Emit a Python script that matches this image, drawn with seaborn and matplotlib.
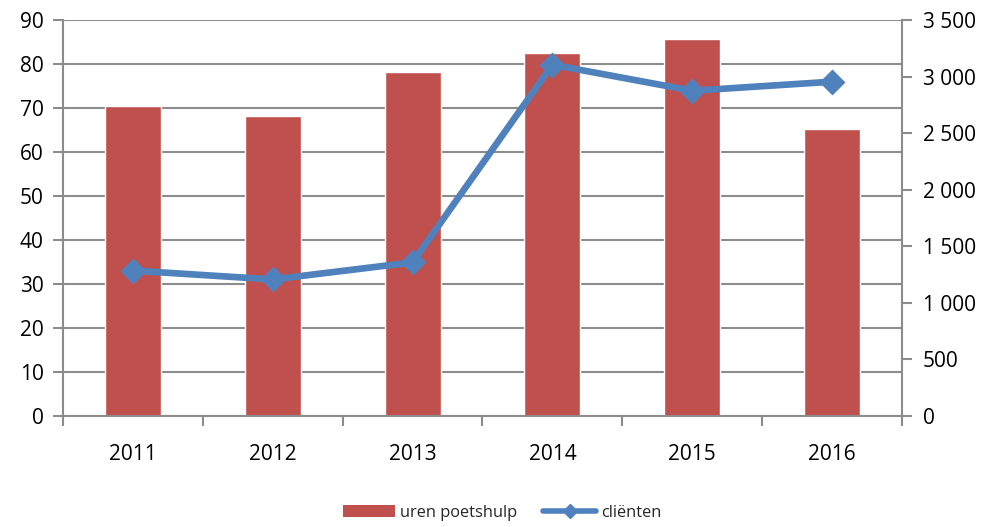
import matplotlib
matplotlib.use("Agg")
import matplotlib.pyplot as plt
import seaborn as sns
import numpy as np
import pandas as pd
from matplotlib.ticker import FuncFormatter, FixedLocator
from matplotlib.patches import Patch
from matplotlib.lines import Line2D

years = ["2011", "2012", "2013", "2014", "2015", "2016"]
uren_poetshulp = [70.45, 68.2, 78.3, 82.4, 85.6, 65.2]
clienten = [1285, 1207, 1358, 3105, 2875, 2955]

bar_color = "#C0504D"
line_color = "#4F81BD"
grid_color = "#8C8C8C"

sns.set_theme(style="white")
plt.rcParams["font.family"] = ["Open Sans", "DejaVu Sans"]

df = pd.DataFrame({"jaar": years, "uren": uren_poetshulp, "clienten": clienten})

fig = plt.figure(figsize=(9.9, 5.27), dpi=100)
ax = fig.add_axes([0.0636, 0.2106, 0.9111 - 0.0636, 0.962 - 0.2106])

sns.barplot(data=df, x="jaar", y="uren", color=bar_color, width=0.4,
            saturation=1, ax=ax, zorder=2)
ax.set_ylim(0, 90)
ax.set_yticks(np.arange(0, 91, 10))
ax.set_xlim(-0.5, len(years) - 0.5)
ax.yaxis.grid(True, color=grid_color, linewidth=1.5, zorder=0)
ax.set_axisbelow(True)
ax.set_xlabel("")
ax.set_ylabel("")

ax2 = ax.twinx()
sns.pointplot(data=df, x="jaar", y="clienten", color=line_color, markers="D",
              linestyles="-", ax=ax2, errorbar=None, native_scale=False)
for l in ax2.lines:
    l.set_linewidth(4.8)
    l.set_markersize(11)
    l.set_markeredgecolor(line_color)
for c in ax2.collections:
    c.set_sizes([130])
ax2.set_ylim(0, 3500)
ax2.set_yticks(np.arange(0, 3501, 500))
ax2.yaxis.set_major_formatter(FuncFormatter(lambda v, p: f"{int(v):,}".replace(",", " ")))
ax2.set_xlim(-0.5, len(years) - 0.5)
ax2.set_ylabel("")
ax2.set_xlabel("")

for a in (ax, ax2):
    for s in a.spines.values():
        s.set_visible(False)
    a.grid(False, axis="x")

ax.spines["left"].set_visible(True)
ax.spines["bottom"].set_visible(True)
ax2.spines["right"].set_visible(True)
for s in (ax.spines["left"], ax.spines["bottom"], ax2.spines["right"]):
    s.set_color(grid_color)
    s.set_linewidth(1.5)

ax.tick_params(axis="y", which="both", left=True, length=7, width=1.5, color=grid_color,
               labelsize=15, labelcolor="black", pad=7)
ax2.tick_params(axis="y", which="both", right=True, length=7, width=1.5, color=grid_color,
                labelsize=15, labelcolor="black", pad=8)

# x ticks at category boundaries, labels at centers
ax.set_xticks(np.arange(len(years)))
ax.set_xticklabels(years)
ax.tick_params(axis="x", which="major", length=0, labelsize=15, labelcolor="black", pad=20)
ax.xaxis.set_minor_locator(FixedLocator(np.arange(-0.5, len(years), 1.0)))
ax.tick_params(axis="x", which="minor", bottom=True, length=7, width=1.5, color=grid_color)

handles = [Patch(facecolor=bar_color, edgecolor="none"),
           Line2D([0], [0], color=line_color, linewidth=4, marker="D", markersize=7)]
fig.legend(handles, ["uren poetshulp", "cliënten"], loc="center", bbox_to_anchor=(0.507, 0.027),
           ncol=2, frameon=False, fontsize=11.8, handlelength=3.2, handleheight=0.8,
           columnspacing=1.6, handletextpad=0.3)

fig.savefig("out.png", dpi=100)
